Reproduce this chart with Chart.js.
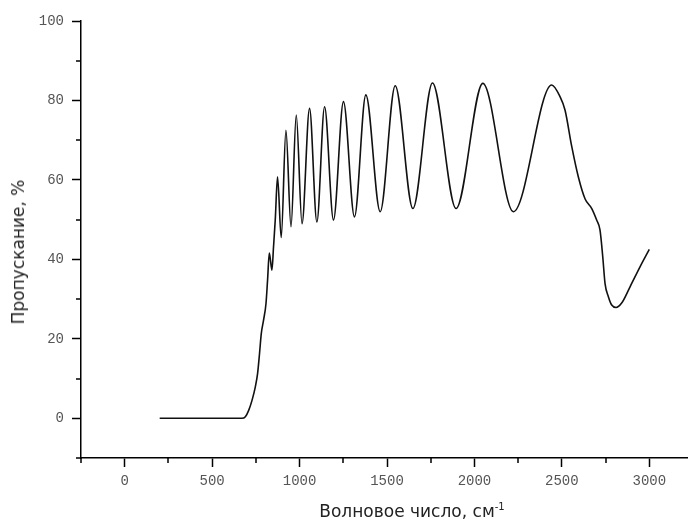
<!DOCTYPE html>
<html>
<head>
<meta charset="utf-8">
<script src="https://cdn.jsdelivr.net/npm/chart.js@4.4.1/dist/chart.umd.min.js"></script>
<style>
    html, body { margin: 0; padding: 0; background: #fff; overflow: hidden; }
    #ramka { position: relative; width: 700px; height: 522px; }
    .nazvanie {
        position: absolute;
        font-family: "DejaVu Sans", sans-serif;
        font-size: 17px;
        line-height: 20px;
        color: #222;
        white-space: nowrap;
    }
    #nazvanieX { left: 412px; top: 501px; transform: translateX(-50%); }
    #nazvanieY { left: 18px; top: 252px; transform: translate(-50%, -50%) rotate(-90deg); }
</style>
</head>
<body>
<div id="ramka">
    <canvas id="spektr" width="700" height="522"></canvas>
    <div class="nazvanie" id="nazvanieX">Волновое число, см<sup style="font-size:10px;line-height:0">-1</sup></div>
    <div class="nazvanie" id="nazvanieY">Пропускание, %</div>
</div>
<script>
// волновое число, см-1
const volnovoeChislo = [
    200, 670, 690, 709, 728, 747, 760, 771, 781, 794, 808, 817, 827, 842, 851, 861,
    874, 895, 922, 951, 981, 1014, 1057, 1099, 1143, 1194, 1251, 1314, 1379, 1461,
    1547, 1648, 1760, 1895, 2048, 2223, 2442, 2490, 2518, 2557, 2594, 2633, 2671,
    2699, 2718, 2734, 2747, 2766, 2785, 2810, 2842, 2890, 2947, 3000
];
// пропускание, %
const propuskanie = [
    0, 0, 0.4, 2, 4.5, 7.9, 11.3, 16.3, 21.3, 24.7, 28.9, 34.8, 41.6, 37.3, 43.1, 50,
    60.8, 45.5, 72.5, 48.2, 76.3, 49, 78, 49.4, 78.4, 49.9, 79.7, 50.7, 81.4, 52,
    83.7, 52.8, 84.4, 52.8, 84.3, 52, 83.9, 80.9, 77.6, 68.3, 60.8, 55.2, 52.8,
    49.9, 47.4, 40.6, 33.9, 30.6, 28.5, 27.9, 29, 33.1, 38.1, 42.5
];

const xMetki = [0, 500, 1000, 1500, 2000, 2500, 3000];
const xMelkie = [-250, 250, 750, 1250, 1750, 2250, 2750, 3250];
const yMetki = [0, 20, 40, 60, 80, 100];
const yMelkie = [-10, 10, 30, 50, 70, 90];

// короткие промежуточные засечки на осях
const melkieZasechki = {
    id: 'melkieZasechki',
    afterDraw(chart) {
        const ctx = chart.ctx;
        const sx = chart.scales.x;
        const sy = chart.scales.y;
        ctx.save();
        ctx.strokeStyle = '#000';
        ctx.lineWidth = 1.5;
        ctx.beginPath();
        xMelkie.forEach(v => {
            const px = Math.round(sx.getPixelForValue(v));
            ctx.moveTo(px, sy.bottom);
            ctx.lineTo(px, sy.bottom + 5);
        });
        yMelkie.forEach(v => {
            const py = Math.round(sy.getPixelForValue(v));
            ctx.moveTo(sx.left, py);
            ctx.lineTo(sx.left - 5, py);
        });
        ctx.stroke();
        ctx.restore();
    }
};

const shriftMetok = { family: '"Liberation Mono", monospace', size: 14 };

new Chart(document.getElementById('spektr').getContext('2d'), {
    type: 'line',
    data: {
        datasets: [{
            data: volnovoeChislo.map((x, i) => ({ x: x, y: propuskanie[i] })),
            borderColor: '#111',
            borderWidth: 1.6,
            pointRadius: 0,
            fill: false,
            cubicInterpolationMode: 'monotone'
        }]
    },
    options: {
        responsive: false,
        animation: false,
        layout: { padding: { left: 0, top: 21, right: 7, bottom: 0 } },
        plugins: { legend: { display: false }, tooltip: { enabled: false } },
        scales: {
            x: {
                type: 'linear',
                min: -250,
                max: 3250,
                afterBuildTicks: s => { s.ticks = xMetki.map(v => ({ value: v })); },
                afterFit: s => { s.height = 64; },
                grid: { drawOnChartArea: false, tickLength: 9, tickColor: '#000', tickWidth: 1.5 },
                border: { color: '#000', width: 1.5 },
                ticks: { color: '#555', font: shriftMetok, padding: 6, maxRotation: 0, callback: v => String(v) }
            },
            y: {
                min: -10,
                max: 100,
                afterBuildTicks: s => { s.ticks = yMetki.map(v => ({ value: v })); },
                afterFit: s => { s.width = 81; },
                grid: { drawOnChartArea: false, tickLength: 9, tickColor: '#000', tickWidth: 1.5 },
                border: { color: '#000', width: 1.5 },
                ticks: { color: '#555', font: shriftMetok, padding: 8, callback: v => String(v) }
            }
        }
    },
    plugins: [melkieZasechki]
});
</script>
</body>
</html>
